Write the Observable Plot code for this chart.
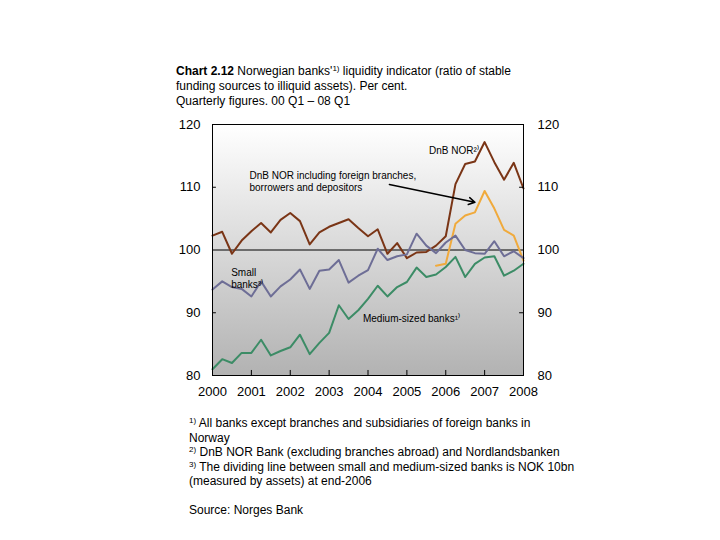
<!DOCTYPE html>
<html><head><meta charset="utf-8">
<script src="https://cdn.jsdelivr.net/npm/d3@7"></script>
<script src="https://cdn.jsdelivr.net/npm/@observablehq/plot@0.6"></script>
<style>
body{margin:0;background:#fff;font-family:"Liberation Sans",Arial,sans-serif;}
#wrap{position:relative;width:720px;height:540px;overflow:hidden;}
#title{position:absolute;left:176px;top:64px;font-size:12px;line-height:15px;color:#000;white-space:nowrap;}
#chart{position:absolute;left:0;top:110px;}
#notes{position:absolute;left:189px;top:416px;font-size:12px;line-height:14.5px;color:#000;white-space:nowrap;}
sup{font-size:8px;line-height:0;vertical-align:4px;}
</style></head>
<body>
<div id="wrap">
<div id="title"><b>Chart 2.12</b> Norwegian banks'<sup>1)</sup> liquidity indicator (ratio of stable<br>funding sources to illiquid assets). Per cent.<br>Quarterly figures. 00 Q1 – 08 Q1</div>
<div id="chart"></div>
<div id="notes"><sup>1)</sup> All banks except branches and subsidiaries of foreign banks in<br>Norway<br><sup>2)</sup> DnB NOR Bank (excluding branches abroad) and Nordlandsbanken<br><sup>3)</sup> The dividing line between small and medium-sized banks is NOK 10bn<br>(measured by assets) at end-2006<br><br>Source: Norges Bank</div>
</div>
<script>
const startYear = 2000;
const nQuarters = 33; // 2000 Q1 – 2008 Q1
const yearTicks = [2000, 2001, 2002, 2003, 2004, 2005, 2006, 2007, 2008];
const yTicks = [80, 90, 100, 110, 120];

const dnbNor = [102.3, 102.9, 99.4, 101.5, 103.0, 104.3, 102.8, 104.8, 105.9, 104.6, 100.9,
  102.8, 103.7, 104.3, 104.9, 103.5, 102.2, 103.3, 99.4, 101.1, 98.7, 99.6, 99.7, 100.7,
  102.2, 110.5, 113.7, 114.1, 117.2, 114.0, 111.2, 113.9, 109.8];
const dnbForeign = [null, null, null, null, null, null, null, null, null, null, null,
  null, null, null, null, null, null, null, null, null, null, null, null, 97.5,
  97.8, 104.2, 105.5, 106.0, 109.4, 106.6, 103.2, 102.3, 98.3];
const smallBanks = [93.7, 95.0, 94.1, 93.8, 92.6, 95.0, 92.6, 94.2, 95.3, 96.9, 93.8,
  96.7, 96.9, 98.4, 94.8, 95.9, 96.8, 100.2, 98.4, 99.0, 99.3, 102.6, 100.7, 99.5,
  101.2, 102.3, 100.0, 99.5, 99.4, 101.4, 99.0, 99.8, 98.7];
const mediumBanks = [81.0, 82.6, 82.0, 83.6, 83.6, 85.7, 83.2, 83.9, 84.5, 86.5, 83.4,
  85.2, 86.8, 91.2, 89.0, 90.4, 92.2, 94.3, 92.6, 94.1, 94.9, 97.2, 95.7, 96.1,
  97.3, 98.9, 95.7, 97.8, 98.8, 99.0, 95.9, 96.7, 97.8];

const seriesNames = ["DnB NOR", "DnB NOR incl. foreign", "Small banks", "Medium-sized banks"];
const seriesColors = ["#7a3516", "#f0aa3c", "#6e6e96", "#3c8c66"];
const seriesValues = [dnbNor, dnbForeign, smallBanks, mediumBanks];

const annotations = [
  {x: 2005.57, y: 115.9, text: "DnB NOR²⁾"},
  {x: 2000.95, y: 111.0, text: "DnB NOR including foreign branches,\nborrowers and depositors"},
  {x: 2000.48, y: 95.5, text: "Small\nbanks³⁾"},
  {x: 2003.87, y: 89.1, text: "Medium-sized banks¹⁾"}
];
const arrowData = [{x1: 2004.55, y1: 110.45, x2: 2006.75, y2: 107.6}];

const rows = [];
seriesValues.forEach((vals, s) => {
  vals.forEach((v, i) => {
    if (v != null) rows.push({series: seriesNames[s], t: startYear + i / 4, v});
  });
});

const gradient = () => {
  const defs = d3.create("svg:defs");
  const g = defs.append("linearGradient").attr("id", "bg")
    .attr("x1", 0).attr("y1", 0).attr("x2", 0).attr("y2", 1);
  g.append("stop").attr("offset", "0%").attr("stop-color", "#ffffff");
  g.append("stop").attr("offset", "100%").attr("stop-color", "#b2b2b2");
  return defs.node();
};

const chart = Plot.plot({
  width: 720,
  height: 295,
  marginLeft: 212,
  marginRight: 197,
  marginTop: 14,
  marginBottom: 30,
  style: {fontFamily: "'Liberation Sans', Arial, sans-serif", fontSize: "13px", background: "transparent", color: "#000"},
  x: {domain: [2000, 2008], label: null},
  y: {domain: [80, 120], label: null},
  color: {domain: seriesNames, range: seriesColors},
  marks: [
    gradient,
    Plot.frame({fill: "url(#bg)"}),
    Plot.ruleY([100], {stroke: "#000", strokeWidth: 1}),
    Plot.line(rows, {x: "t", y: "v", z: "series", stroke: "series", strokeWidth: 2}),
    Plot.ruleX(yearTicks.slice(1, -1), {x: d => d, y1: 80, y2: 80.8, stroke: "#000"}),
    Plot.ruleY([90, 110], {y: d => d, x1: 2000, x2: 2000.1, stroke: "#000"}),
    Plot.ruleY([90, 110], {y: d => d, x1: 2007.9, x2: 2008, stroke: "#000"}),
    Plot.text(annotations, {x: "x", y: "y", text: "text", textAnchor: "start", fontSize: 10, lineHeight: 1.2, fill: "#000"}),
    Plot.arrow(arrowData, {x1: "x1", y1: "y1", x2: "x2", y2: "y2", stroke: "#000", strokeWidth: 1.5, headLength: 7}),
    Plot.frame({stroke: "#000", strokeWidth: 1}),
    Plot.axisX({ticks: yearTicks, tickFormat: d => String(d), tickSize: 0, tickPadding: 11}),
    Plot.axisY({anchor: "left", ticks: yTicks, tickSize: 0, tickPadding: 12}),
    Plot.axisY({anchor: "right", ticks: yTicks, tickSize: 0, tickPadding: 14})
  ]
});
document.getElementById("chart").appendChild(chart);
</script>
</body></html>
